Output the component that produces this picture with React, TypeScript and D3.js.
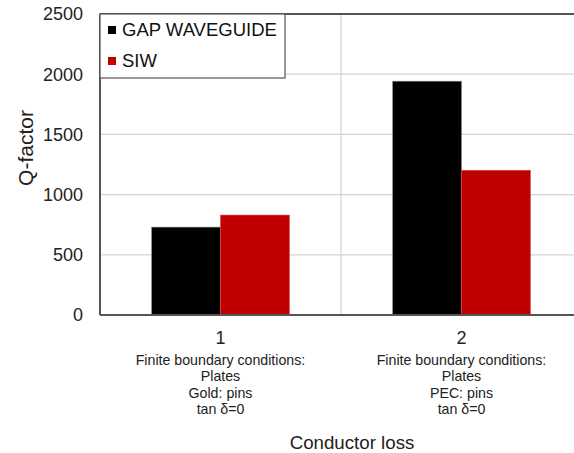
import React from "react";
import * as d3 from "d3";

const categories = ["1", "2"];
const categoryNotes = [
  ["Finite boundary conditions:", "Plates", "Gold: pins", "tan δ=0"],
  ["Finite boundary conditions:", "Plates", "PEC: pins", "tan δ=0"],
];
const seriesNames = ["GAP WAVEGUIDE", "SIW"];
const gapWaveguide = [730, 1942];
const siw = [830, 1202];
const yTicks = [0, 500, 1000, 1500, 2000, 2500];
const colors = ["#000000", "#C00000"];

export default function App() {
  const W = 574;
  const H = 453;
  const left = 100;
  const right = 582;
  const top = 14;
  const bottom = 315;
  const font = "'Liberation Sans', Arial, sans-serif";

  const x = d3.scaleBand<string>().domain(categories).range([left, right]);
  const inner = d3
    .scaleBand<string>()
    .domain(seriesNames)
    .range([0, x.bandwidth()])
    .paddingOuter(0.75)
    .paddingInner(0);
  const y = d3.scaleLinear().domain([0, 2500]).range([bottom, top]);
  const values = [gapWaveguide, siw];

  return (
    <svg
      width={W}
      height={H}
      style={{ position: "absolute", left: 0, top: 0, display: "block" }}
      fontFamily={font}
    >
      <rect width={W} height={H} fill="#fff" />
      {yTicks
        .filter((t) => t > 0 && t < 2500)
        .map((t) => (
          <line key={t} x1={left} x2={W} y1={y(t)} y2={y(t)} stroke="#d4d4d4" strokeWidth={1.2} />
        ))}
      {categories.slice(1).map((c) => (
        <line key={c} x1={x(c)!} x2={x(c)!} y1={top} y2={bottom} stroke="#d4d4d4" strokeWidth={1.2} />
      ))}
      {categories.map((c, i) =>
        seriesNames.map((s, j) => (
          <rect
            key={c + s}
            x={x(c)! + inner(s)!}
            y={y(values[j][i])}
            width={inner.bandwidth()}
            height={bottom - y(values[j][i])}
            fill={colors[j]}
            stroke={j === 0 ? "#888" : "#e04040"}
            strokeWidth={0.6}
          />
        ))
      )}
      <line x1={left} x2={W} y1={top} y2={top} stroke="#555" strokeWidth={2} />
      <line x1={left} x2={W} y1={bottom} y2={bottom} stroke="#555" strokeWidth={2} />
      <line x1={left} x2={left} y1={top} y2={bottom} stroke="#555" strokeWidth={2} />
      {yTicks.map((t) => (
        <text key={t} x={83} y={y(t)} dy="0.35em" textAnchor="end" fontSize={18} fill="#222">
          {t}
        </text>
      ))}
      <text
        transform={`translate(33,148) rotate(-90)`}
        textAnchor="middle"
        fontSize={21}
        fill="#222"
      >
        Q-factor
      </text>
      {categories.map((c, i) => {
        const cx = x(c)! + x.bandwidth() / 2;
        return (
          <g key={c}>
            <text x={cx} y={338} dy="0.35em" textAnchor="middle" fontSize={18} fill="#222">
              {c}
            </text>
            {categoryNotes[i].map((line, k) => (
              <text
                key={k}
                x={cx}
                y={360 + k * 16.3}
                dy="0.35em"
                textAnchor="middle"
                fontSize={14.2}
                fill="#222"
              >
                {line}
              </text>
            ))}
          </g>
        );
      })}
      <text x={352} y={442} dy="0.35em" textAnchor="middle" fontSize={18.7} fill="#222">
        Conductor loss
      </text>
      <rect x={left} y={top} width={185} height={64} fill="#fff" stroke="#555" strokeWidth={1.2} />
      {seriesNames.map((s, j) => (
        <g key={s}>
          <rect x={108} y={(j === 0 ? 30 : 61) - 4} width={8} height={8} fill={colors[j]} />
          <text x={122} y={j === 0 ? 30 : 61} dy="0.35em" fontSize={18.5} fill="#111">
            {s}
          </text>
        </g>
      ))}
    </svg>
  );
}
